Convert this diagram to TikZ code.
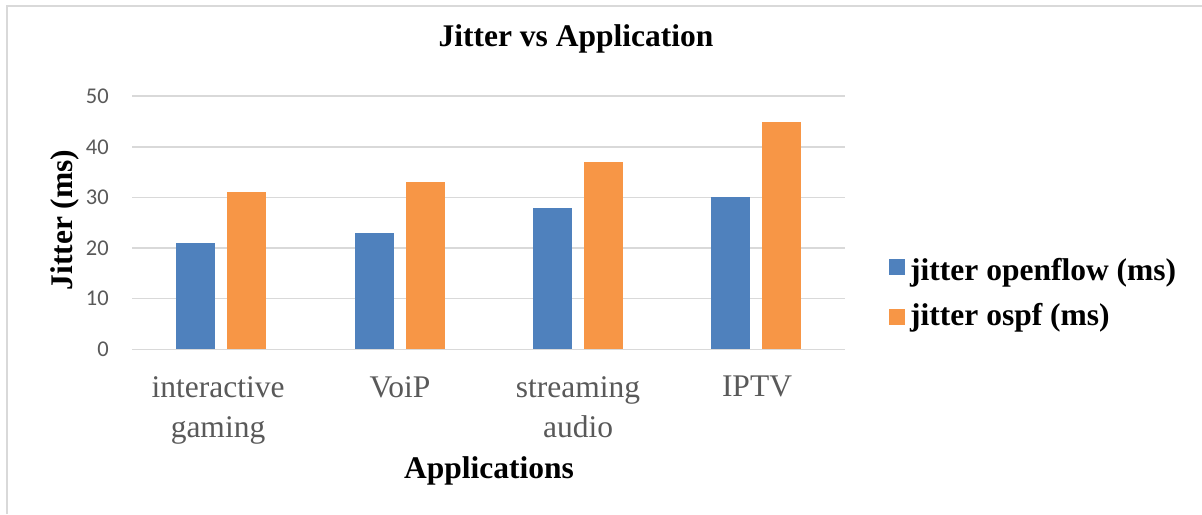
\documentclass[tikz,border=0pt]{standalone}
\usepackage{fontspec}
\setmainfont{Liberation Serif}[BoldFont={Liberation Serif Bold}]
\newfontfamily\tickfont{Carlito}
\definecolor{gridgray}{HTML}{D9D9D9}
\definecolor{labelgray}{HTML}{595959}
\definecolor{seriesblue}{HTML}{4F81BD}
\definecolor{seriesorange}{HTML}{F79646}
\begin{document}
\begin{tikzpicture}[x=1pt,y=-1pt,
  gridline/.style={draw=gridgray,line width=1.5pt},
  frameline/.style={draw=gridgray,line width=1.5pt},
  tick/.style={font=\tickfont\fontsize{22.5}{26}\selectfont,text=labelgray,inner sep=0pt,anchor=east},
  catlabel/.style={font=\fontsize{31.5}{40}\selectfont,text=labelgray,inner sep=0pt,anchor=north,align=center},
  heading/.style={font=\bfseries\fontsize{31.5}{38}\selectfont,inner sep=0pt},
  legkey/.style={minimum size=16pt,inner sep=0pt,draw=none},
  barA/.style={fill=seriesblue},
  barB/.style={fill=seriesorange},
]
\useasboundingbox (0,0) rectangle (1202,514);
\fill[white] (0,0) rectangle (1202,514);
% chart frame (left and top edges)
\draw[frameline] (7,514) -- (7,6) -- (1202,6);

% value axis: gridlines and tick labels
\foreach \v in {0,10,...,50} {
  \draw[gridline] (132,{349.3-5.062*\v}) -- (845,{349.3-5.062*\v});
  \node[tick] (tick\v) at (109,{349.3-5.062*\v}) {\v};
}

% bars: openflow (blue) and ospf (orange) per application
\foreach \c/\a/\b in {221/21/31, 399.5/23/33, 578/28/37, 756/30/45} {
  \fill[barA] ({\c-45},348.6) rectangle ({\c-6},{349.3-5.062*\a});
  \fill[barB] ({\c+6},348.6) rectangle ({\c+45},{349.3-5.062*\b});
}

% category labels
\node[catlabel] (catA) at (218,376) {interactive\\gaming};
\node[catlabel] (catB) at (400,376) {VoiP};
\node[catlabel] (catC) at (578,376) {streaming\\audio};
\node[catlabel] (catD) at (757,376) {IPTV};

% titles
\node[heading,anchor=base] (title) at (576,46) {Jitter vs Application};
\node[heading,anchor=base] (xtitle) at (489,478) {Applications};
\node[heading,anchor=base,rotate=90] (ytitle) at (72,220) {Jitter (ms)};

% legend
\node[legkey,fill=seriesblue] (keyA) at (897,267) {};
\node[legkey,fill=seriesorange] (keyB) at (897,317) {};
\node[heading,anchor=base west] (legA) at (910,280) {jitter openflow (ms)};
\node[heading,anchor=base west] (legB) at (910,325) {jitter ospf (ms)};
\end{tikzpicture}
\end{document}
